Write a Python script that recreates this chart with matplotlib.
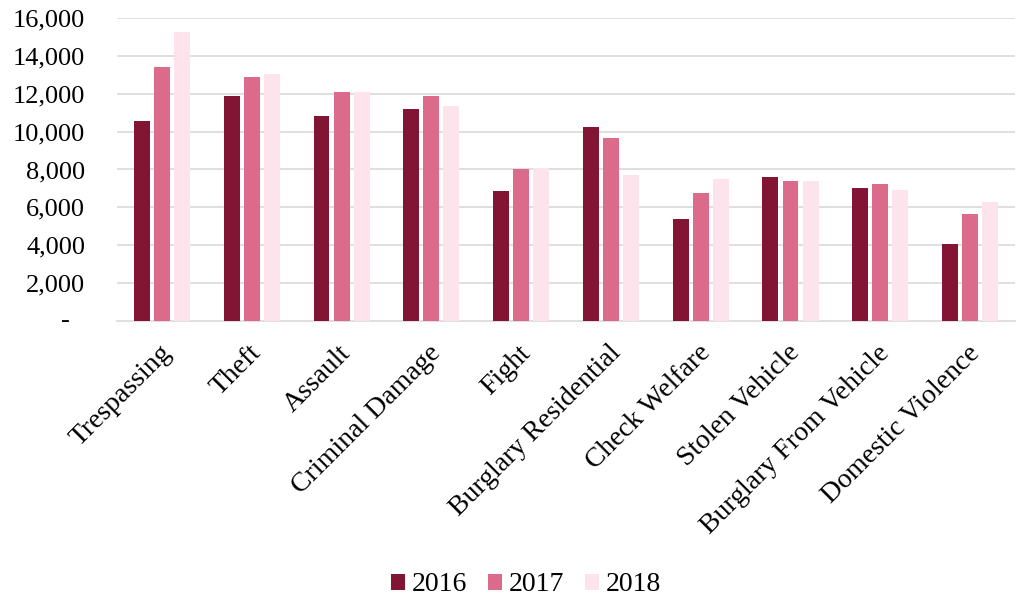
import matplotlib
matplotlib.use("Agg")
import matplotlib.pyplot as plt
from matplotlib.ticker import FuncFormatter
from matplotlib.transforms import ScaledTranslation
import numpy as np

categories = ["Trespassing", "Theft", "Assault", "Criminal Damage", "Fight",
              "Burglary Residential", "Check Welfare", "Stolen Vehicle",
              "Burglary From Vehicle", "Domestic Violence"]
years = ["2016", "2017", "2018"]
calls_2016 = [10580, 11870, 10810, 11180, 6850, 10240, 5370, 7590, 7040, 4080]
calls_2017 = [13410, 12880, 12090, 11880, 8010, 9660, 6780, 7380, 7230, 5630]
calls_2018 = [15260, 13040, 12100, 11350, 8060, 7730, 7510, 7390, 6900, 6280]
colors = ["#831534", "#DC6A8A", "#FDE4EC"]

plt.rcParams["font.family"] = ["Liberation Serif", "DejaVu Serif"]

fig = plt.figure(figsize=(10.16, 5.99), dpi=100)
ax = fig.add_axes([0.1152, 0.4641, 0.8838, 0.5059])

x = np.arange(len(categories))
width = 0.178
step = 0.223
for i, (vals, yr) in enumerate(zip([calls_2016, calls_2017, calls_2018], years)):
    ax.bar(x + (i - 1) * step, vals, width, color=colors[i], label=yr, zorder=3)

ax.set_xlim(-0.5, len(categories) - 0.5)
ax.set_ylim(0, 16000)
ax.set_yticks(np.arange(2000, 16001, 2000))
ax.yaxis.set_major_formatter(FuncFormatter(lambda v, p: f"{int(v):,}"))
ax.tick_params(axis="y", length=0, pad=23, labelsize=19)
ax.grid(axis="y", color="#D9D9D9", linewidth=1.2, zorder=0)
# zero label in accounting style
ax.text(-0.052, 0, "-", transform=ax.get_yaxis_transform(), ha="right",
        va="center", fontsize=19)

ax.set_xticks(x)
ax.set_xticklabels(categories, rotation=45, ha="right", va="top",
                   rotation_mode="anchor", fontsize=20)
ax.tick_params(axis="x", length=0, pad=14)
shift = ScaledTranslation(-3 / 100, 0, fig.dpi_scale_trans)
for lbl in ax.get_xticklabels():
    lbl.set_transform(lbl.get_transform() + shift)

for s in ["top", "right", "left"]:
    ax.spines[s].set_visible(False)
ax.spines["bottom"].set_color("#D9D9D9")
ax.spines["bottom"].set_linewidth(1.2)

leg = fig.legend(loc="center", bbox_to_anchor=(0.5175, 0.0234), ncol=3,
                 frameon=False, fontsize=20, handlelength=0.5, handleheight=0.5,
                 handletextpad=0.25, columnspacing=0.75)

fig.savefig("out.png", dpi=100)
